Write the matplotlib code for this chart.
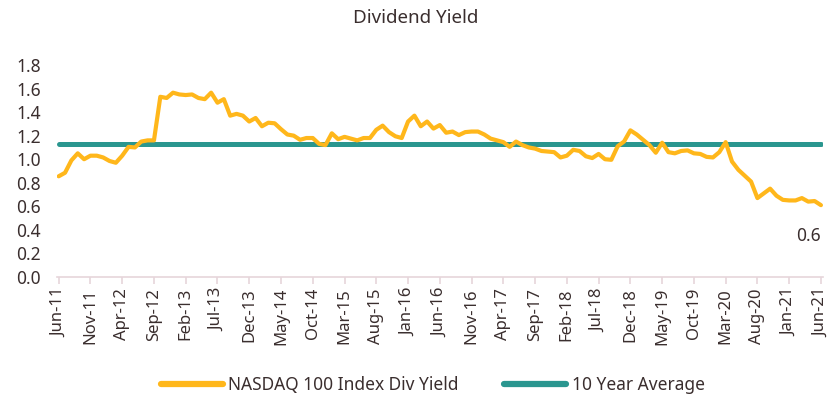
import matplotlib
matplotlib.use("Agg")
import matplotlib.pyplot as plt

plt.rcParams['font.family'] = ['Noto Sans', 'DejaVu Sans']

# monthly NASDAQ 100 dividend yield, Jun-11 .. Jun-21
div_yield = [
    0.855, 0.885, 0.99, 1.05, 1.00, 1.03, 1.03, 1.015, 0.985, 0.97,
    1.03, 1.105, 1.10, 1.15, 1.16, 1.16, 1.53, 1.52, 1.565, 1.55,
    1.545, 1.55, 1.52, 1.51, 1.565, 1.48, 1.51, 1.37, 1.385, 1.37,
    1.32, 1.35, 1.28, 1.31, 1.305, 1.255, 1.21, 1.20, 1.165, 1.18,
    1.18, 1.13, 1.12, 1.22, 1.17, 1.19, 1.175, 1.16, 1.18, 1.18,
    1.25, 1.285, 1.23, 1.195, 1.18, 1.32, 1.37, 1.28, 1.32, 1.26,
    1.29, 1.225, 1.235, 1.205, 1.23, 1.235, 1.235, 1.21, 1.175, 1.16,
    1.145, 1.105, 1.15, 1.12, 1.10, 1.09, 1.07, 1.065, 1.06, 1.015,
    1.03, 1.08, 1.07, 1.025, 1.01, 1.045, 1.00, 0.995, 1.11, 1.15,
    1.245, 1.21, 1.165, 1.12, 1.055, 1.14, 1.06, 1.05, 1.07, 1.075,
    1.05, 1.045, 1.02, 1.015, 1.06, 1.145, 0.98, 0.91, 0.86, 0.81,
    0.67, 0.71, 0.75, 0.69, 0.655, 0.65, 0.65, 0.67, 0.64, 0.645,
    0.61,
]
avg_10y = 1.13
last_label = "0.6"

tick_labels = ["Jun-11", "Nov-11", "Apr-12", "Sep-12", "Feb-13", "Jul-13",
               "Dec-13", "May-14", "Oct-14", "Mar-15", "Aug-15", "Jan-16",
               "Jun-16", "Nov-16", "Apr-17", "Sep-17", "Feb-18", "Jul-18",
               "Dec-18", "May-19", "Oct-19", "Mar-20", "Aug-20", "Jan-21",
               "Jun-21"]

yellow = "#FFB71B"
teal = "#2A968F"
txt = "#3A2E2E"

fig = plt.figure(figsize=(8.32, 4.0), dpi=100)
ax = fig.add_axes([0.069, 0.3075, 0.92, 0.53])

x = list(range(len(div_yield)))
ax.plot(x, div_yield, color=yellow, lw=3.0, solid_capstyle='round',
        solid_joinstyle='round', label="NASDAQ 100 Index Div Yield", zorder=3)
ax.plot([0, len(div_yield) - 1], [avg_10y, avg_10y], color=teal, lw=3.6,
        solid_capstyle='round', label="10 Year Average", zorder=2)

ax.text(len(div_yield) - 3, 0.35, last_label, color=txt, fontsize=12.5,
        ha='center', va='center')

ax.set_xlim(-0.2, 120.3)
ax.set_ylim(0, 1.8)
ax.set_yticks([i / 5 for i in range(10)])
ax.set_yticklabels([f"{i / 5:.1f}" for i in range(10)])
ax.set_xticks(range(0, 121, 5))
ax.set_xticklabels(tick_labels, rotation=90)

for s in ['top', 'right', 'left']:
    ax.spines[s].set_visible(False)
ax.spines['bottom'].set_color("#E6D5DA")
ax.spines['bottom'].set_linewidth(1.2)
ax.tick_params(axis='x', colors="#E6D5DA", length=5, width=1.2, labelcolor=txt,
               labelsize=12, pad=3)
ax.tick_params(axis='y', length=0, labelcolor=txt, labelsize=12.5, pad=12)

fig.text(0.5, 0.955, "Dividend Yield", ha='center', va='center',
         fontsize=13.5, color=txt)

fig.legend(loc='lower center', bbox_to_anchor=(0.52, -0.025), ncol=2,
           frameon=False, handlelength=3.6, columnspacing=2.6,
           handletextpad=0.3, fontsize=12.5, labelcolor=txt)
leg = fig.legends[0]
for h in leg.get_lines():
    h.set_linewidth(4.5)

fig.savefig("out.png", dpi=100)
